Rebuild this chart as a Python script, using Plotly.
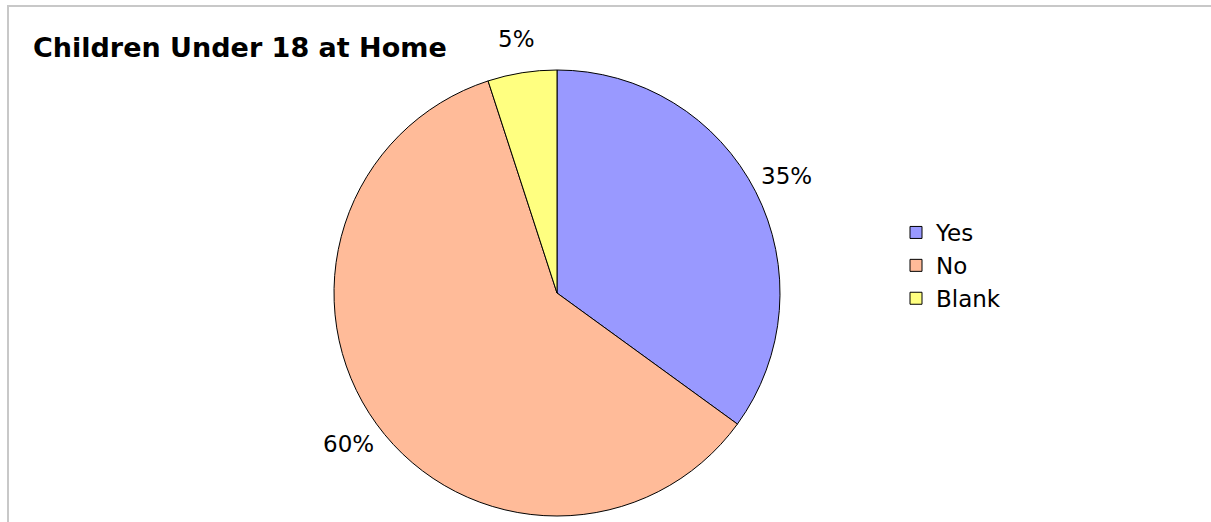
import math
import plotly.graph_objects as go

# Survey responses: children under 18 living at home
categories = ["Yes", "No", "Blank"]
shares = [35, 60, 5]
slice_colors = ["#9999FF", "#FFBB99", "#FFFF80"]

W, H = 1211, 522

# Pie geometry in pixels (centre and radius), converted to paper coordinates
CX, CY, R = 557, 293, 223
pie_domain = dict(x=[(CX - R) / W, (CX + R) / W], y=[1 - (CY + R) / H, 1 - (CY - R) / H])

fig = go.Figure(
    go.Pie(
        labels=categories,
        values=shares,
        sort=False,
        direction="clockwise",
        rotation=0,
        marker=dict(colors=slice_colors, line=dict(color="#000000", width=1)),
        textinfo="none",
        hoverinfo="label+percent",
        domain=pie_domain,
    )
)

# Percentage labels placed just outside each slice, at its mid-angle
total = sum(shares)
label_offset = 1.155
annotations = []
start = 0.0
for share in shares:
    frac = share / total
    mid = 2 * math.pi * (start + frac / 2)
    start += frac
    px = CX + label_offset * R * math.sin(mid)
    py = CY - label_offset * R * math.cos(mid)
    annotations.append(
        dict(
            text=f"{round(frac * 100)}%",
            x=px / W,
            y=1 - py / H,
            xref="paper",
            yref="paper",
            xanchor="center",
            yanchor="middle",
            showarrow=False,
            font=dict(family="DejaVu Sans", size=23, color="#000000"),
        )
    )

# Chart frame: only the top and left edges fall inside the page
frame_path = f"M {8 / W},0 L {8 / W},{1 - 6 / H} L 1,{1 - 6 / H}"

fig.update_layout(
    width=W,
    height=H,
    margin=dict(l=0, r=0, t=0, b=0),
    paper_bgcolor="#FFFFFF",
    plot_bgcolor="#FFFFFF",
    font=dict(family="DejaVu Sans", color="#000000"),
    title=dict(
        text="<b>Children Under 18 at Home</b>",
        font=dict(family="DejaVu Sans", size=27, color="#000000"),
        xref="container",
        yref="container",
        x=33 / W,
        xanchor="left",
        y=1 - 48 / H,
        yanchor="middle",
    ),
    legend=dict(
        x=896 / W,
        xanchor="left",
        y=1 - 211 / H,
        yanchor="top",
        font=dict(family="DejaVu Sans", size=23, color="#000000"),
        bgcolor="rgba(0,0,0,0)",
        itemclick=False,
    ),
    annotations=annotations,
    shapes=[
        dict(
            type="path",
            xref="paper",
            yref="paper",
            path=frame_path,
            line=dict(color="#C8C8C8", width=2),
            layer="below",
        )
    ],
)

fig.write_html("out.html")
